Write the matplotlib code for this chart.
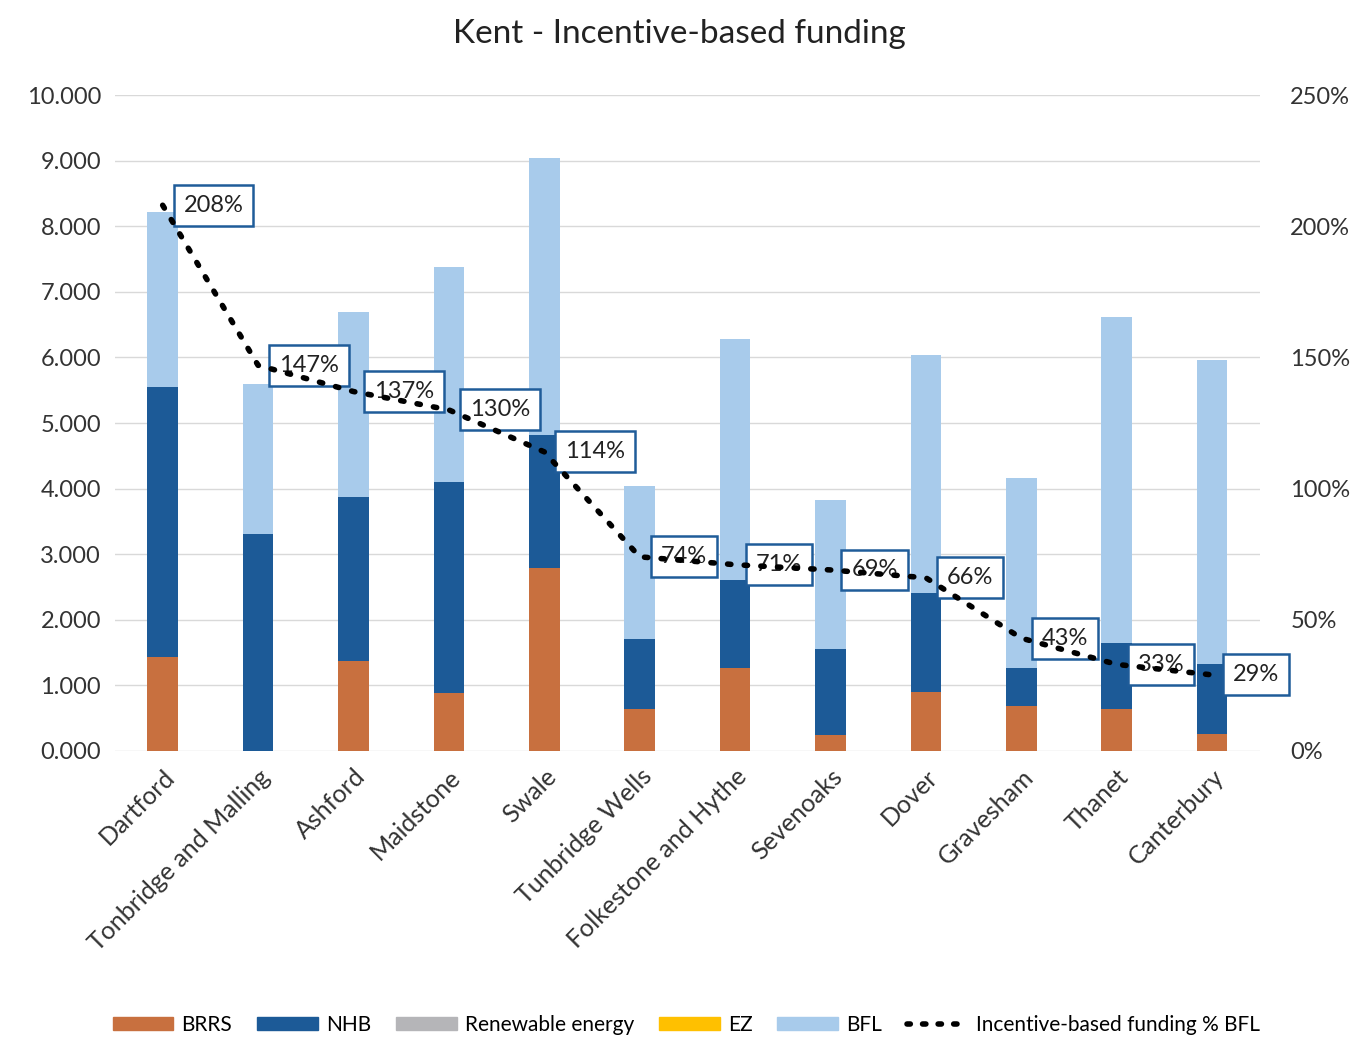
import matplotlib
matplotlib.use("Agg")
import matplotlib.pyplot as plt
from matplotlib.patches import Patch
from matplotlib.lines import Line2D
import numpy as np

plt.rcParams['font.family'] = ['Lato', 'DejaVu Sans']

councils = ["Dartford", "Tonbridge and Malling", "Ashford", "Maidstone", "Swale",
            "Tunbridge Wells", "Folkestone and Hythe", "Sevenoaks", "Dover",
            "Gravesham", "Thanet", "Canterbury"]
brrs = [1.43, 0.00, 1.37, 0.88, 2.79, 0.64, 1.27, 0.24, 0.90, 0.69, 0.64, 0.26]
nhb = [4.12, 3.31, 2.50, 3.22, 2.03, 1.07, 1.34, 1.31, 1.51, 0.58, 1.01, 1.07]
renewable = [0.0] * 12
ez = [0.0] * 12
bfl = [2.67, 2.28, 2.82, 3.28, 4.22, 2.33, 3.67, 2.28, 3.63, 2.89, 4.97, 4.63]
pct_bfl = [208, 147, 137, 130, 114, 74, 71, 69, 66, 43, 33, 29]

c_brrs = '#C8703F'
c_nhb = '#1C5A97'
c_ren = '#B5B5B8'
c_ez = '#FFC000'
c_bfl = '#A8CBEB'
c_box = '#1F5C99'

fig = plt.figure(figsize=(13.59, 10.41), dpi=100)
ax = fig.add_axes([0.0846, 0.2786, 0.8424, 0.6301])
ax2 = ax.twinx()

x = np.arange(len(councils))
w = 0.32
bottom = np.zeros(len(councils))
for vals, col in [(brrs, c_brrs), (nhb, c_nhb), (renewable, c_ren), (ez, c_ez), (bfl, c_bfl)]:
    ax.bar(x, vals, w, bottom=bottom, color=col, zorder=2)
    bottom += np.array(vals)

ax.set_xlim(-0.5, len(councils) - 0.5)
ax.set_ylim(0, 10)
ax.set_yticks(np.arange(0, 10.01, 1))
ax.set_yticklabels([f"{v:.3f}" for v in np.arange(0, 10.01, 1)], fontsize=17, color='#333333')
ax.grid(axis='y', color='#D9D9D9', linewidth=1, zorder=0)
ax.set_axisbelow(True)
ax.set_xticks(x)
ax.set_xticklabels(councils, rotation=45, ha='right', rotation_mode='anchor', fontsize=18, color='#333333')
ax.tick_params(axis='both', length=0, pad=10)
for s in ax.spines.values():
    s.set_visible(False)

ax2.set_ylim(0, 250)
ax2.set_yticks(np.arange(0, 251, 50))
ax2.set_yticklabels([f"{v}%" for v in range(0, 251, 50)], fontsize=17, color='#333333')
ax2.tick_params(axis='y', length=0, pad=22)
for s in ax2.spines.values():
    s.set_visible(False)

ax2.plot(x, pct_bfl, color='black', linewidth=4, linestyle=(0, (0.6, 2.4)),
         dash_capstyle='round', zorder=5)
for xi, p in zip(x, pct_bfl):
    ax2.annotate(f"{p}%", (xi, p), xytext=(15, 0), textcoords='offset points',
                 ha='left', va='center', fontsize=17, color='#222222', zorder=4,
                 bbox=dict(boxstyle='square,pad=0.42', fc='white', ec=c_box, lw=1.8))

fig.suptitle("Kent - Incentive-based funding", y=0.982, fontsize=24, color='#222222')

handles = [Patch(color=c_brrs, label='BRRS'), Patch(color=c_nhb, label='NHB'),
           Patch(color=c_ren, label='Renewable energy'), Patch(color=c_ez, label='EZ'),
           Patch(color=c_bfl, label='BFL'),
           Line2D([0], [0], color='black', linewidth=4, linestyle=(0, (0.6, 2.2)),
                  dash_capstyle='round', label='Incentive-based funding % BFL')]
fig.legend(handles=handles, loc='lower center', bbox_to_anchor=(0.505, -0.012), ncol=6,
           frameon=False, fontsize=15, handlelength=2.9, handleheight=0.6,
           columnspacing=1.2, handletextpad=0.4)

fig.savefig("out.png", dpi=100)
